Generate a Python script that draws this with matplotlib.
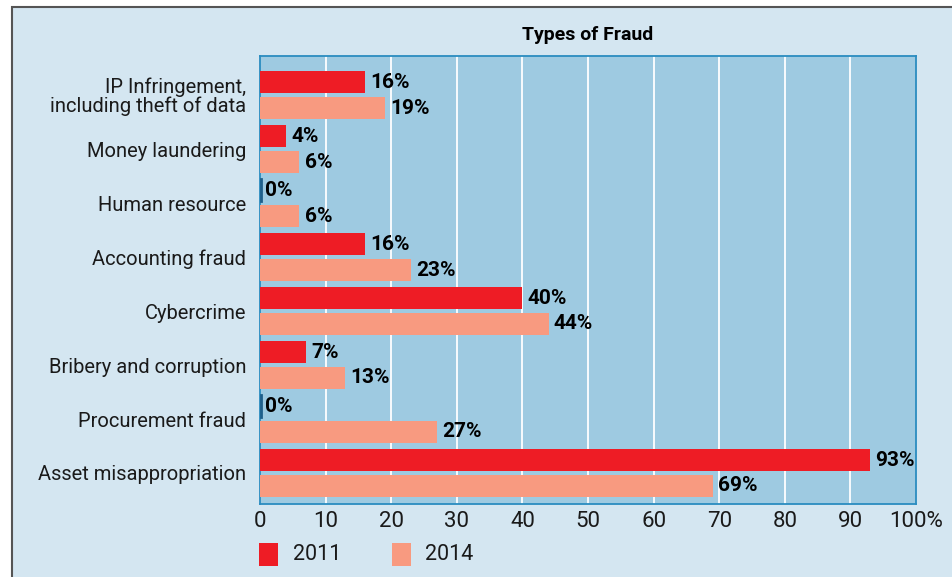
import numpy as np
import matplotlib
matplotlib.use('Agg')
import matplotlib.pyplot as plt
from matplotlib.patches import Rectangle

# data
categories = ['IP Infringement,\nincluding theft of data', 'Money laundering',
              'Human resource', 'Accounting fraud', 'Cybercrime',
              'Bribery and corruption', 'Procurement fraud', 'Asset misappropriation']
vals_2011 = [16, 4, 0, 16, 40, 7, 0, 93]
vals_2014 = [19, 6, 6, 23, 44, 13, 27, 69]
series_names = ['2011', '2014']
xticks = [0, 10, 20, 30, 40, 50, 60, 70, 80, 90, 100]
xtick_labels = ['0', '10', '20', '30', '40', '50', '60', '70', '80', '90', '100%']

BG = '#d4e6f1'
PLOT_BG = '#9ecae1'
RED = '#ee1c25'
SALMON = '#f89a80'
EDGE = '#2a8cc0'

plt.rcParams['font.family'] = ['Liberation Sans Narrow', 'Roboto', 'DejaVu Sans']
label_font = ['Roboto', 'DejaVu Sans']

fig = plt.figure(figsize=(9.52, 5.77), dpi=100)
fig.patch.set_facecolor('white')

# outer panel with gray frame on top and left
fig.patches.append(Rectangle((11.5/952, -0.1), 1.2, 1.1 - 7.5/577,
                             transform=fig.transFigure, facecolor=BG,
                             edgecolor='#555555', linewidth=1.5, zorder=-10))

ax = fig.add_axes([260/952, 1 - 504.3/577, (916 - 260)/952, (504.3 - 55.7)/577])
ax.set_zorder(1)
ax.set_facecolor(PLOT_BG)

y = np.arange(len(categories))
off = 0.24
h = 0.40

b1 = ax.barh(y - off, vals_2011, height=h, color=RED, zorder=3)
b2 = ax.barh(y + off, vals_2014, height=h, color=SALMON, zorder=3)
# zero-valued bars show as a small dark stub on the axis
for i, v in enumerate(vals_2011):
    if v == 0:
        ax.plot([0.15, 0.15], [y[i] - off - h/2, y[i] - off + h/2], color='#1f5f8a', lw=2, zorder=4)

for bars, vals in [(b1, vals_2011), (b2, vals_2014)]:
    for bar, v in zip(bars, vals):
        ax.text(v + 0.8, bar.get_y() + bar.get_height()/2, f'{v}%',
                va='center', ha='left', fontsize=15, fontweight='bold',
                family=label_font, zorder=5)

ax.set_xlim(0, 100)
ax.set_ylim(len(categories) - 1 + 0.58, -0.73)
ax.set_xticks(xticks)
ax.set_xticklabels(xtick_labels, family=label_font, fontsize=16, color='#1a1a1a')
ax.set_yticks(y)
ax.set_yticklabels(categories, family=label_font, fontsize=14.5, color='#1a1a1a',
                   linespacing=0.95)
ax.tick_params(axis='both', length=0)
ax.tick_params(axis='y', pad=10)
ax.tick_params(axis='x', pad=5)

for xv in xticks[1:-1]:
    ax.axvline(xv, color='white', lw=1.3, zorder=1)

for s in ax.spines.values():
    s.set_color(EDGE)
    s.set_linewidth(1.3)

ax.set_title('Types of Fraud', fontsize=14, fontweight='bold', pad=11)

# legend drawn as squares below the axis
fig.patches.append(Rectangle((259/952, 1 - 566/577), 19/952, 23/577,
                             transform=fig.transFigure, facecolor=RED, zorder=3))
fig.text(293/952, 1 - 554.5/577, series_names[0], fontsize=15.5, family=label_font,
         va='center', color='#1a1a1a')
fig.patches.append(Rectangle((392/952, 1 - 566/577), 19/952, 23/577,
                             transform=fig.transFigure, facecolor=SALMON, zorder=3))
fig.text(425/952, 1 - 554.5/577, series_names[1], fontsize=15.5, family=label_font,
         va='center', color='#1a1a1a')

fig.savefig('out.png', dpi=100, facecolor=fig.get_facecolor())
